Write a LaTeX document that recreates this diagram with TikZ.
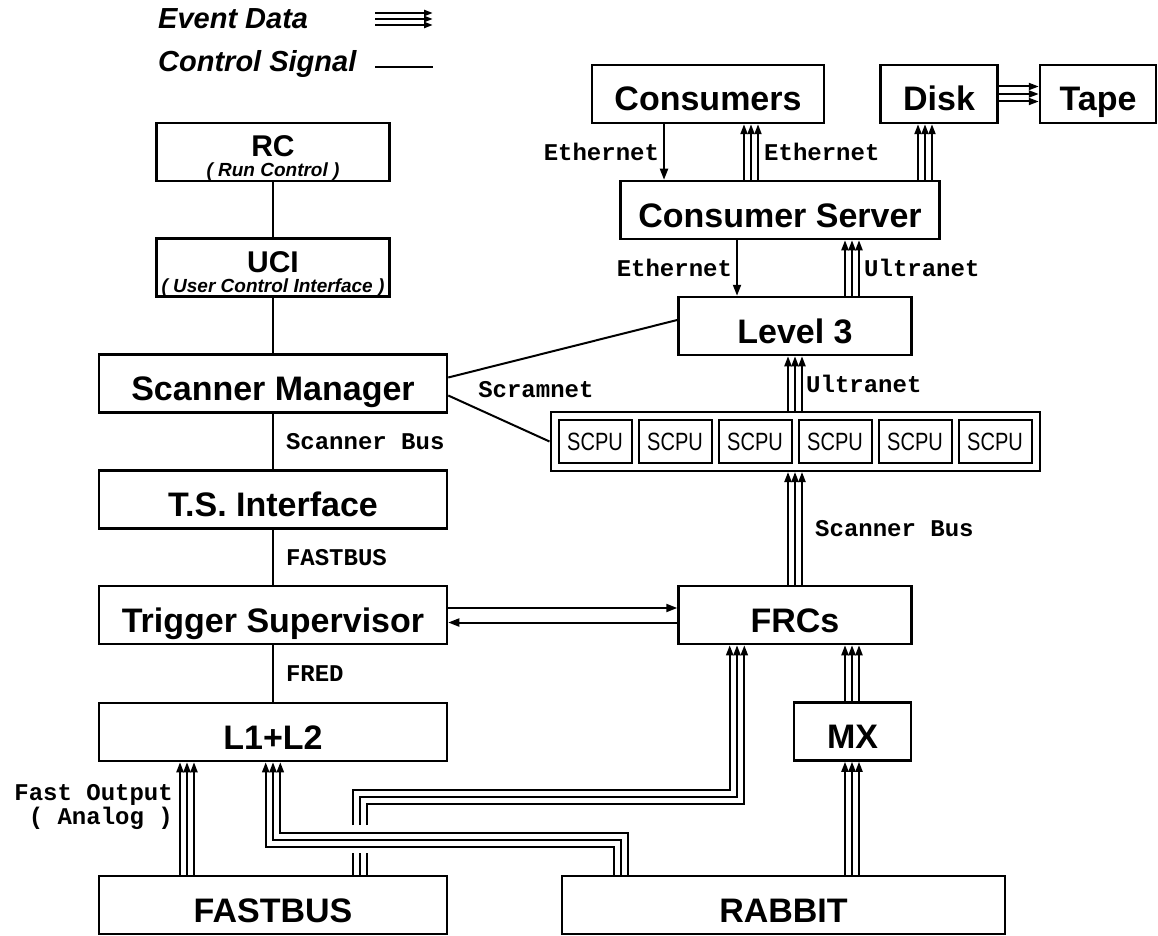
\documentclass[tikz,border=0pt]{standalone}
\usepackage{fontspec}
\setmainfont{Liberation Sans}
\newfontfamily\busfont{Liberation Mono}
\newfontfamily\cpufont[FakeStretch=0.8]{Liberation Sans}
\usetikzlibrary{arrows.meta,fit}

\tikzset{
  box/.style={draw, line width=2.5pt, inner sep=0pt, minimum height=58pt,
    font=\bfseries\fontsize{34}{34}\selectfont, text height=34pt, text depth=0pt},
  topbox/.style={draw, line width=2.5pt, inner sep=0pt, minimum height=58pt,
    minimum width=233pt, align=center, font=\bfseries\fontsize{19}{17}\selectfont},
  cpu/.style={draw, line width=2pt, minimum width=73pt, minimum height=43pt,
    inner sep=0pt, font=\cpufont\fontsize{25}{25}\selectfont},
  ctl/.style={line width=2pt},
  ctlarr/.style={line width=2pt, -{Triangle[length=11pt,width=8pt]}},
  evt/.style={line width=2pt, -{Triangle[length=10pt,width=7pt]}},
  bus/.style={line width=2pt},
  lbl/.style={font=\busfont\bfseries\fontsize{24}{24}\selectfont, inner sep=1pt},
  legend/.style={font=\bfseries\itshape\fontsize{29}{29}\selectfont, inner sep=0pt},
}

\begin{document}
\begin{tikzpicture}[x=1pt,y=-1pt]
\useasboundingbox (0,0) rectangle (1158,936);

% legend
\node[legend, anchor=west] (evt) at (158,19) {Event Data};
\node[legend, anchor=west] (ctl) at (158,64) {Control Signal};
\coordinate (evs) at (375,19);
\coordinate (eve) at (433,19);
\coordinate (cts) at (375,67);
\coordinate (cte) at (433,67);
\foreach \d in {-6,0,6}
  \draw[line width=2.5pt, -{Triangle[length=9pt,width=6pt]}] ([yshift=\d pt]evs) -- ([yshift=\d pt]eve);
\draw[ctl] (cts) -- (cte);

% left column
\node[topbox] (rc) at (273,152) {\rule{0pt}{33pt}{\fontsize{30}{17}\selectfont RC}\\[3pt]
  {\itshape ( Run Control )}};
\node[topbox] (uci) at (273,267.5) {\rule{0pt}{33pt}{\fontsize{30}{17}\selectfont UCI}\\[3pt]
  {\itshape ( User Control Interface )}};
\node[box, minimum width=348pt] (sm) at (273,383.5) {Scanner Manager};
\node[box, minimum width=348pt] (tsi) at (273,499.5) {T.S. Interface};
\node[box, minimum width=348pt] (ts) at (273,615) {Trigger Supervisor};
\node[box, minimum width=348pt] (l12) at (273,732) {L1+L2};
\node[box, minimum width=348pt] (fb) at (273,905) {FASTBUS};

% right column
\node[box, minimum width=232pt] (cons) at (708,94) {Consumers};
\node[box, minimum width=117pt] (disk) at (939,94) {Disk};
\node[box, minimum width=116pt] (tape) at (1098,94) {Tape};
\node[box, minimum width=319pt] (cs) at (780,210) {Consumer Server};
\node[box, minimum width=233pt] (l3) at (795,326) {Level 3};
\foreach \i in {1,...,6}
  \node[cpu] (scpu\i) at ({795+(\i-3.5)*80},441.5) {SCPU};
\node[draw, line width=2pt, inner sep=7pt, fit=(scpu1)(scpu6)] (scpu) {};
\node[box, minimum width=233pt] (frc) at (795,615) {FRCs};
\node[box, minimum width=117pt] (mx) at (852.5,731.5) {MX};
\node[box, minimum width=443pt] (rab) at (783.5,905) {RABBIT};

% control signals
\draw[ctl] (rc) -- (uci);
\draw[ctl] (uci) -- (sm);
\draw[ctl] (sm) -- (tsi) node[lbl, midway, right=11pt] {Scanner Bus};
\draw[ctl] (tsi) -- (ts) node[lbl, midway, right=11pt] {FASTBUS};
\draw[ctl] (ts) -- (l12) node[lbl, midway, right=11pt] {FRED};
\draw[ctl] ([yshift=6pt]sm.east) -- ([yshift=6pt]l3.west);
\draw[ctl] ([yshift=-12pt]sm.east) -- (scpu.west)
  node[lbl, pos=0, anchor=west, xshift=28pt, yshift=6pt] {Scramnet};
\draw[ctlarr] ([yshift=7pt]ts.east) -- ([yshift=7pt]frc.west);
\draw[ctlarr] ([yshift=-7.5pt]frc.west) -- ([yshift=-7.5pt]ts.east);
\draw[ctlarr] (664,0 |- cons.south) -- (664,0 |- cs.north)
  node[lbl, midway, left=3pt] {Ethernet};
\draw[ctlarr] (737,0 |- cs.south) -- (737,0 |- l3.north)
  node[lbl, midway, left=3pt] {Ethernet};

% event data
\foreach \d in {-7,0,7} {
  \draw[evt] ({751+\d},0 |- cs.north) -- ({751+\d},0 |- cons.south);
  \draw[evt] ({925+\d},0 |- cs.north) -- ({925+\d},0 |- disk.south);
  \draw[evt] ({852+\d},0 |- l3.north) -- ({852+\d},0 |- cs.south);
  \draw[evt] ({795+\d},0 |- scpu.north) -- ({795+\d},0 |- l3.south);
  \draw[evt] ({795+\d},0 |- frc.north) -- ({795+\d},0 |- scpu.south);
  \draw[evt] ({852+\d},0 |- mx.north) -- ({852+\d},0 |- frc.south);
  \draw[evt] ({852+\d},0 |- rab.north) -- ({852+\d},0 |- mx.south);
  \draw[evt] ({187+\d},0 |- fb.north) -- ({187+\d},0 |- l12.south);
}
\foreach \d in {-7.5,0,7.5}
  \draw[evt] ([yshift=\d pt]disk.east) -- ([yshift=\d pt]tape.west);
\path (758,0 |- cons.south) -- (758,0 |- cs.north) node[lbl, midway, right=5pt] {Ethernet};
\path (859,0 |- l3.north) -- (859,0 |- cs.south) node[lbl, midway, right=4pt] {Ultranet};
\path (802,0 |- scpu.north) -- (802,0 |- l3.south) node[lbl, midway, right=3pt] {Ultranet};
\path (802,0 |- frc.north) -- (802,0 |- scpu.south) node[lbl, midway, right=12pt] {Scanner Bus};
\path (180,0 |- fb.north) -- (180,0 |- l12.south)
  node[lbl, pos=.6, left=6pt, align=right] {Fast Output\\( Analog )};

% crossing bundles
\foreach \k in {-1,0,1} {
  \draw[bus] ({360+7.3*\k},0 |- fb.north) -- ({360+7.3*\k},853);
  \draw[evt] ({360+7.3*\k},825) |- ({737+7.3*\k},{797+7.3*\k})
    -- ({737+7.3*\k},0 |- frc.south);
  \draw[evt] ({621+7.3*\k},0 |- rab.north) |- ({273+7.3*\k},{840-7.3*\k})
    -- ({273+7.3*\k},0 |- l12.south);
}
\end{tikzpicture}
\end{document}
